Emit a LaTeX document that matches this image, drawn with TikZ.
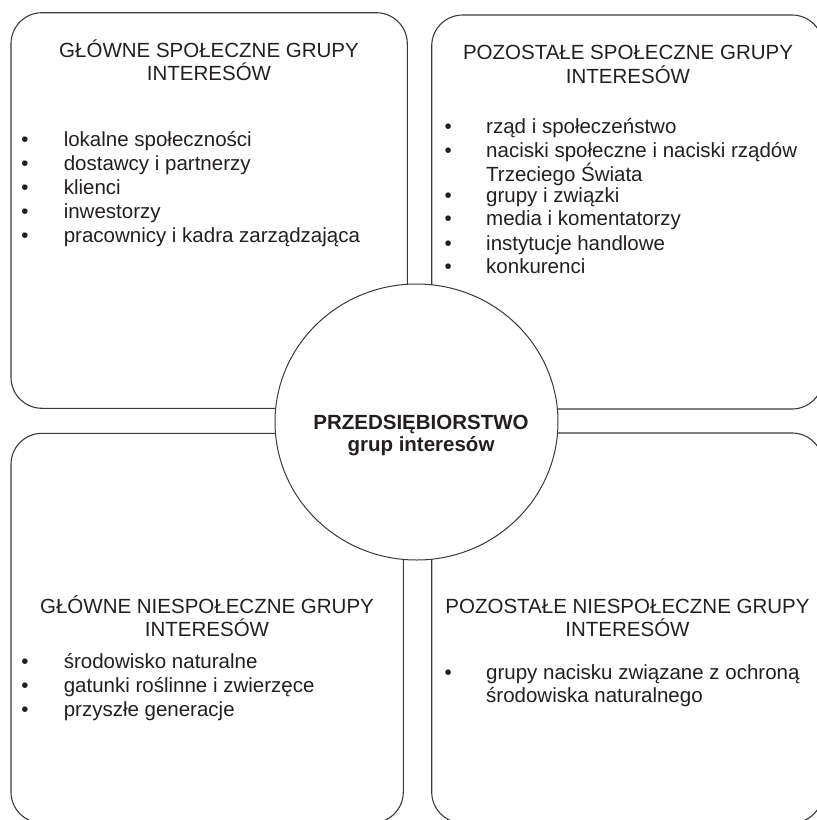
\documentclass[tikz,border=0pt]{standalone}
\usepackage{fontspec}
\setmainfont{Liberation Sans}
\usetikzlibrary{shapes.geometric}
\definecolor{ink}{HTML}{231F20}
\definecolor{rule}{HTML}{3A3A3A}

\begin{document}
\begin{tikzpicture}[x=1pt,y=-1pt,
  panel/.style={draw=rule, line width=1.1pt, rectangle, rounded corners=31pt, inner sep=0pt},
  core/.style={draw=rule, line width=1pt, ellipse, fill=white, inner sep=0pt},
  txt/.style={inner sep=0pt, text=ink, font=\fontsize{20.5}{24}\selectfont},
  head/.style={txt, anchor=base},
  entry/.style={txt, anchor=base west},
  dot/.style={txt, anchor=base},
  bold/.style={txt, anchor=base, font=\fontsize{20.5}{24}\selectfont\bfseries},
]
\useasboundingbox (0,0) rectangle (817,820);
\clip (0,0) rectangle (817,820);

% four quadrant panels
\node[panel, minimum width=396.3pt, minimum height=395.6pt] (tl) at (209.15,210.5) {};
\node[panel, minimum width=391.3pt, minimum height=394pt]   (tr) at (627.35,212) {};
\node[panel, minimum width=392.3pt, minimum height=389.7pt] (bl) at (207.15,628.15) {};
\node[panel, minimum width=391.3pt, minimum height=390pt]   (br) at (627.35,628) {};

% central enterprise
\node[core, minimum width=283pt, minimum height=276pt] (firm) at (416.5,422) {};
\node[bold] (firm-a) at (421,429.3) {PRZEDSIĘBIORSTWO};
\node[bold] (firm-b) at (421,451.7) {grup interesów};

% top left
\node[head] (tl-h1) at (209,57) {GŁÓWNE SPOŁECZNE GRUPY};
\node[head] (tl-h2) at (209,80) {INTERESÓW};
\foreach [count=\i] \y/\t in {146/lokalne społeczności, 170/dostawcy i partnerzy,
    194/klienci, 218/inwestorzy, 242/pracownicy i kadra zarządzająca}{
  \node[dot] (tl-d\i) at (25,\y) {•};
  \node[entry] (tl-\i) at (63.6,\y) {\t};
}

% top right
\node[head] (tr-h1) at (628,59.5) {POZOSTAŁE SPOŁECZNE GRUPY};
\node[head] (tr-h2) at (628,83) {INTERESÓW};
\foreach [count=\i] \y/\t in {133.3/rząd i społeczeństwo,
    157.3/naciski społeczne i naciski rządów,
    202/grupy i związki, 225.7/media i komentatorzy,
    250/instytucje handlowe, 273.3/konkurenci}{
  \node[dot] (tr-d\i) at (448.3,\y) {•};
  \node[entry] (tr-\i) at (486,\y) {\t};
}
\node[entry] (tr-2b) at (486,181) {Trzeciego Świata};

% bottom left
\node[head] (bl-h1) at (207,613.3) {GŁÓWNE NIESPOŁECZNE GRUPY};
\node[head] (bl-h2) at (207,636.7) {INTERESÓW};
\foreach [count=\i] \y/\t in {668.3/środowisko naturalne,
    692.3/gatunki roślinne i zwierzęce, 716/przyszłe generacje}{
  \node[dot] (bl-d\i) at (25,\y) {•};
  \node[entry] (bl-\i) at (63.6,\y) {\t};
}

% bottom right
\node[head] (br-h1) at (627.5,613.3) {POZOSTAŁE NIESPOŁECZNE GRUPY};
\node[head] (br-h2) at (627.5,636.7) {INTERESÓW};
\node[dot] (br-d1) at (448.3,679.3) {•};
\node[entry] (br-1) at (486,679.3) {grupy nacisku związane z ochroną};
\node[entry] (br-1b) at (486,702.7) {środowiska naturalnego};
\end{tikzpicture}
\end{document}
